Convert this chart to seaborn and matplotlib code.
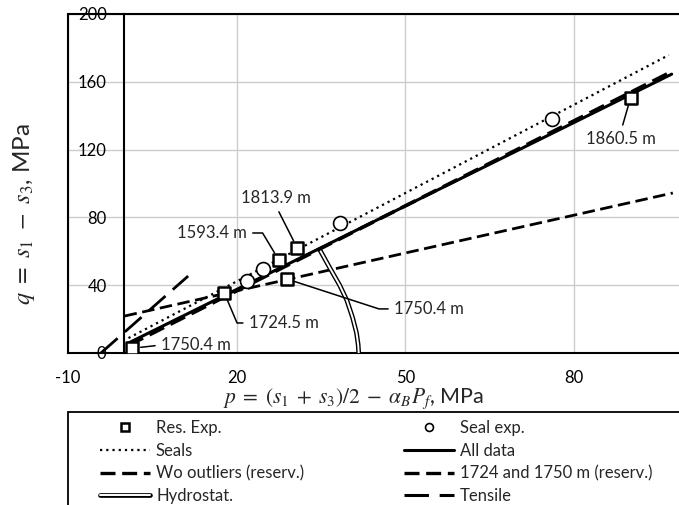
import matplotlib
matplotlib.use('Agg')
import matplotlib.pyplot as plt
import seaborn as sns
from matplotlib.lines import Line2D
from matplotlib.patches import Rectangle

# reservoir experiments (squares), depth labels
res_depth = ['1750.4 m', '1724.5 m', '1593.4 m', '1813.9 m', '1750.4 m', '1860.5 m']
res_p = [1.5, 17.8, 27.5, 30.8, 28.9, 90.0]
res_q = [2.8, 35.6, 54.9, 61.8, 43.7, 150.6]

# seal experiments (circles)
seal_p = [21.8, 24.7, 38.4, 76.1]
seal_q = [42.7, 49.4, 76.5, 138.1]

# fitted lines (end points)
seals_fit_p = [0.8, 96.8]
seals_fit_q = [8.8, 175.8]
all_fit_p = [0.8, 97.3]
all_fit_q = [5.9, 164.5]
wo_fit_p = [0.8, 97.3]
wo_fit_q = [4.5, 166.0]
res2_fit_p = [0.1, 97.5]
res2_fit_q = [21.8, 94.4]
tensile_p = [-4.1, 11.4]
tensile_q = [0.0, 45.4]

# hydrostatic curve
hydro_p = [34.8, 36.6, 38.3, 39.6, 40.6, 41.3, 41.6, 41.7]
hydro_q = [60.8, 50.0, 40.1, 31.0, 21.0, 12.0, 5.0, 0.0]

x_ticks = [-10, 20, 50, 80]
y_ticks = [0, 40, 80, 120, 160, 200]

sns.set_style('white')
plt.rcParams['font.family'] = ['Lato', 'DejaVu Sans']
plt.rcParams['mathtext.fontset'] = 'stix'
plt.rcParams['axes.unicode_minus'] = False

fig = plt.figure(figsize=(6.79, 5.05), dpi=100)
ax = fig.add_axes([0.0997, 0.301, 0.9003, 0.6713])

# style of each series
dotted = (0, (1, 1.8))
dashed = (0, (4.5, 2))
longdash = (0, (8, 3.5))
sq_style = dict(marker='s', s=75, facecolor='white', edgecolor='black', linewidth=1.8)
ci_style = dict(marker='o', s=100, facecolor='white', edgecolor='black', linewidth=1.2)

sns.lineplot(x=res2_fit_p, y=res2_fit_q, ax=ax, color='black', lw=2, linestyle=dashed,
             estimator=None, sort=False, zorder=3)
sns.lineplot(x=tensile_p, y=tensile_q, ax=ax, color='black', lw=2, linestyle=longdash,
             estimator=None, sort=False, zorder=3)
sns.lineplot(x=hydro_p, y=hydro_q, ax=ax, color='black', lw=3.4,
             estimator=None, sort=False, zorder=3)
sns.lineplot(x=hydro_p, y=hydro_q, ax=ax, color='white', lw=1.4,
             estimator=None, sort=False, zorder=3)
sns.lineplot(x=seals_fit_p, y=seals_fit_q, ax=ax, color='black', lw=1.6, linestyle=dotted,
             estimator=None, sort=False, zorder=4)
sns.lineplot(x=all_fit_p, y=all_fit_q, ax=ax, color='black', lw=2.2,
             estimator=None, sort=False, zorder=4)
sns.lineplot(x=wo_fit_p, y=wo_fit_q, ax=ax, color='black', lw=2.6, linestyle=dashed,
             estimator=None, sort=False, zorder=4)

sns.scatterplot(x=res_p, y=res_q, ax=ax, zorder=6, **sq_style)
sns.scatterplot(x=seal_p, y=seal_q, ax=ax, zorder=6, **ci_style)

# depth labels with leader lines
ann = [
    ((6.6, 4.7), 'left', 'arc3', (0, 0.5)),
    ((22.2, 17.7), 'left', 'angle,angleA=0,angleB=113,rad=0', (0, 0.5)),
    ((21.8, 70.8), 'right', 'angle,angleA=0,angleB=121,rad=0', (1, 0.5)),
    ((27.0, 91.4), 'center', 'arc3', (0.5, 0)),
    ((48.0, 26.0), 'left', 'angle,angleA=0,angleB=-18,rad=0', (0, 0.5)),
    ((88.3, 126.3), 'center', 'arc3', (0.5, 1)),
]
for i, (pos, ha, cs, rp) in enumerate(ann):
    ax.annotate(res_depth[i], xy=(res_p[i], res_q[i]), xytext=pos, ha=ha, va='center',
                fontsize=12, zorder=7,
                arrowprops=dict(arrowstyle='-', color='black', lw=1.1, connectionstyle=cs,
                                relpos=rp, shrinkA=2, shrinkB=6))

ax.set_xlim(-10, 98.6)
ax.set_ylim(0, 200)
ax.set_xticks(x_ticks)
ax.set_yticks(y_ticks)
ax.grid(True, color='#cccccc', lw=1)
ax.set_axisbelow(True)

ax.spines['left'].set_position(('data', 0))
ax.spines['right'].set_visible(False)
for s in ['left', 'top', 'bottom']:
    ax.spines[s].set_linewidth(1.5)
    ax.spines[s].set_color('black')
ax.axvline(-10, color='black', lw=1.5, clip_on=False)

ax.tick_params(axis='both', direction='in', length=4, width=1.2, labelsize=12, colors='black')
ax.tick_params(axis='x', pad=12.5)
ax.tick_params(axis='y', pad=12.5)

ax.set_xlabel(r'$p\;=\;(s_1\;+\;s_3)/2\;-\;\alpha_B P_f$, MPa', fontsize=15.5)
ax.set_ylabel(r'$q\ =\ s_1\ -\ s_3$, MPa', fontsize=17.5)
ax.xaxis.set_label_coords(0.468, -0.098)
ax.yaxis.set_label_coords(-0.05, 0.41)

# legend (box runs off the bottom / right of the picture)
fig.add_artist(Rectangle((68.3 / 679, -0.1), 1.0, (505 - 411.7) / 505 + 0.1,
                         transform=fig.transFigure, fill=False, ec='black', lw=1.3))

h_res = Line2D([], [], marker='s', ls='none', mfc='white', mec='black', mew=1.8, ms=8.5)
h_seal = Line2D([], [], marker='o', ls='none', mfc='white', mec='black', mew=1.2, ms=9.5)
h_seals = Line2D([], [], color='black', lw=1.6, ls=dotted)
h_all = Line2D([], [], color='black', lw=2.2)
h_wo = Line2D([], [], color='black', lw=2.4, ls=dashed)
h_res2 = Line2D([], [], color='black', lw=2.4, ls=dashed)
h_hydro = (Line2D([], [], color='black', lw=3.4), Line2D([], [], color='white', lw=1.4))
h_tens = Line2D([], [], color='black', lw=2.2, ls=longdash)

leg_kw = dict(loc='upper left', frameon=False, fontsize=12, handlelength=3.0,
              handletextpad=0.36, labelspacing=0.4, borderpad=0, borderaxespad=0,
              markerscale=0.6)
fig.legend([h_res, h_seals, h_wo, h_hydro],
           ['Res. Exp.', 'Seals', 'Wo outliers (reserv.)', 'Hydrostat.'],
           bbox_to_anchor=(100 / 679, 0.168), **leg_kw)
fig.legend([h_seal, h_all, h_res2, h_tens],
           ['Seal exp.', 'All data', '1724 and 1750 m (reserv.)', 'Tensile'],
           bbox_to_anchor=(404 / 679, 0.168), **leg_kw)

fig.savefig('out.png', dpi=100)
